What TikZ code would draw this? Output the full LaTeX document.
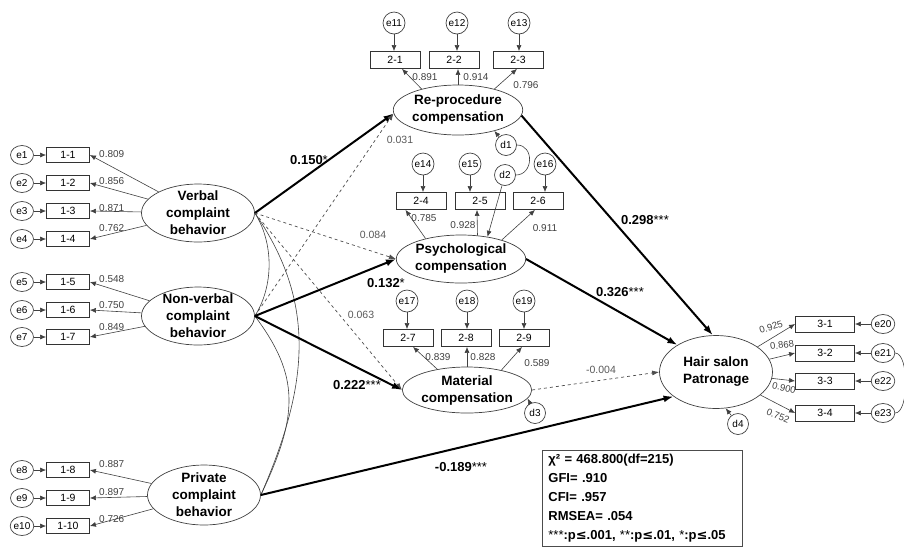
\documentclass[tikz,border=0pt]{standalone}
\usepackage{fontspec}
\setmainfont{Liberation Sans}
\newfontfamily\symfont{DejaVu Sans}
\usetikzlibrary{shapes.geometric,arrows.meta}
\newcommand{\lesym}{{\symfont\bfseries ≤}}
\begin{document}
\begin{tikzpicture}[x=1pt,y=-1pt,
    lat/.style={ellipse,draw=black!75,line width=.7pt,minimum width=113pt,minimum height=48pt,inner xsep=0pt,inner ysep=-6pt,align=center,font=\bfseries\fontsize{13.5}{17}\selectfont},
    ind/.style={draw=black!80,line width=.8pt,minimum width=50pt,minimum height=17pt,inner sep=0pt,font=\fontsize{10.5}{12}\selectfont},
    err/.style={circle,draw=black!75,line width=.7pt,minimum size=22pt,inner sep=0pt,font=\fontsize{10}{12}\selectfont},
    errw/.style={err,ellipse,minimum width=23pt,minimum height=19pt},
    ld/.style={font=\fontsize{10}{12}\selectfont,text=black!75,inner sep=1pt},
    ns/.style={font=\fontsize{10.5}{12}\selectfont,text=black!65,inner sep=1pt},
    coef/.style={font=\bfseries\fontsize{13}{14}\selectfont,inner sep=1pt},
    load/.style={-{Latex[length=6pt,width=5pt]},draw=black!75,line width=.6pt},
    strong/.style={-{Latex[length=10pt,width=7pt]},line width=2pt},
    weak/.style={-{Latex[length=7pt,width=5pt]},dashed,draw=black!70,line width=.7pt},
    cov/.style={draw=black!75,line width=.6pt}]
  \useasboundingbox (0,0) rectangle (904,550);

  \node[lat,minimum height=58pt] (vb) at (198,213) {Verbal\\complaint\\behavior};
  \node[lat,minimum height=58pt] (nv) at (198,316) {Non-verbal\\complaint\\behavior};
  \node[lat,minimum height=60pt] (pv) at (204,495) {Private\\complaint\\behavior};
  \node[lat,minimum height=50pt] (rp) at (458,110) {Re-procedure\\compensation};
  \node[lat] (pc) at (461,259) {Psychological\\compensation};
  \node[lat,minimum height=46pt] (mc) at (467,390) {Material\\compensation};
  \node[lat,minimum height=73pt] (hs) at (716,372) {Hair salon\\Patronage};

  \foreach \i/\y/\v/\ly/\f in {1/155/0.809/154/vb, 2/183/0.856/181/vb, 3/211/0.871/208/vb, 4/239/0.762/228/vb,
      5/282/0.548/279/nv, 6/310/0.750/305/nv, 7/337/0.849/327/nv,
      8/470/0.887/464/pv, 9/498/0.897/492/pv, 10/526/0.726/519/pv}{
    \node[ind,minimum width=43pt,minimum height=15pt] (b1\i) at (68,\y) {1-\i};
    \node[errw] (e\i) at (22,\y) {e\i};
    \draw[load] (e\i) -- (b1\i);
    \draw[load] (\f) -- (b1\i.east);
    \node[ld,anchor=west] (l1\i) at (98,\ly) {\v};
  }

  \foreach \b/\t/\x/\y/\n/\ex/\f/\a/\s/\v/\lx/\ly in {21/2-1/395/60/11/394/rp/150/7/0.891/425/77, 22/2-2/454/60/12/457/rp/90/4/0.914/476/77,
      23/2-3/518/60/13/519/rp/30/-1/0.796/526/85, 24/2-4/421/201/14/423/pc/150/-15.5/0.785/424/218,
      25/2-5/480/201/15/470/pc/55/-3/0.928/463/225, 26/2-6/538/201/16/545/pc/25/-3/0.911/545/228,
      27/2-7/408/338/17/407/mc/145/5/0.839/438/357, 28/2-8/466/338/18/467/mc/90/1/0.828/483/357,
      29/2-9/524/338/19/524/mc/30/-2/0.589/537/363}{
    \node[ind] (b\b) at (\x,\y) {\t};
    \node[err] (e\n) at (\ex,\y-37) {e\n};
    \draw[load] (e\n) -- (e\n |- b\b.north);
    \draw[load] (\f.\a) -- ([xshift=\s pt]b\b.south);
    \node[ld] (l\b) at (\lx,\ly) {\v};
  }

  \foreach \i/\y/\n/\v/\lx/\ly/\r in {1/324/20/0.925/771/327/18, 2/353/21/0.868/782/345/8, 3/381/22/0.900/784/388/-14, 4/413/23/0.752/778/416/-22}{
    \node[ind,minimum width=59pt,minimum height=16pt] (b3\i) at (825,\y) {3-\i};
    \node[errw] (e\n) at (883,\y) {e\n};
    \draw[load] (e\n) -- (b3\i);
    \draw[load] (hs) -- (b3\i.west);
    \node[ld,font=\fontsize{9.5}{11}\selectfont,rotate=\r] (l3\i) at (\lx,\ly) {\v};
  }
  \draw[cov] (e21.east) to[out=0,in=0,looseness=.6] (e23.east);

  \node[err,minimum size=21pt] (d1) at (506,145) {d1};
  \node[err,minimum size=21pt] (d2) at (505,175) {d2};
  \node[err,minimum size=21pt] (d3) at (535,413) {d3};
  \node[err,minimum size=21pt] (d4) at (738,424) {d4};
  \draw[load] (d1) -- (rp.-30);
  \draw[load] (d2) -- (pc.40);
  \draw[load] (d3) -- (mc.-8);
  \draw[load] (d4) -- (hs.-75);
  \draw[cov] (d1.east) to[out=0,in=0,looseness=1.5] (d2.east);

  \draw[cov] (vb.east) .. controls +(19,30) and +(19,-30) .. (nv.east);
  \draw[cov] (vb.east) .. controls +(62,90) and +(48,-110) .. (pv.east);
  \draw[cov] (nv.east) .. controls +(45,60) and +(38,-80) .. (pv.east);

  \draw[strong] (vb.east) -- (rp.183);
  \draw[weak] (nv.east) -- (rp.183);
  \draw[weak] (vb.east) -- (pc.west);
  \draw[strong] (nv.east) -- (pc.west);
  \draw[weak] (vb.east) -- (mc.west);
  \draw[strong] (nv.east) -- (mc.west);
  \draw[strong] (rp.-5) -- (hs.95);
  \draw[strong] (pc.east) -- (hs.145);
  \draw[weak] (mc.east) -- (hs.west);
  \draw[strong] (pv.east) -- (hs.210);

  \node[coef] (c1) at (309,160) {0.150{\mdseries*}};
  \node[ns] (c2) at (400,140) {0.031};
  \node[ns] (c3) at (373,235) {0.084};
  \node[coef] (c4) at (386,283) {0.132{\mdseries*}};
  \node[ns] (c5) at (361,315) {0.063};
  \node[coef] (c6) at (357,385) {0.222{\mdseries***}};
  \node[coef] (c7) at (645,220) {0.298{\mdseries***}};
  \node[coef] (c8) at (620,292) {0.326{\mdseries***}};
  \node[ns] (c9) at (601,370) {-0.004};
  \node[coef] (c10) at (461,467) {-0.189{\mdseries***}};

  \node[draw=black!70,line width=.8pt,anchor=north west,text width=188pt,align=left,inner xsep=6pt,inner ysep=4pt,
    font=\bfseries\fontsize{13}{19}\selectfont] (gof) at (542,450)
    {χ² = 468.800(df=215)\\GFI= .910\\CFI= .957\\RMSEA= .054\\{\mdseries***}:p\lesym.001, {\mdseries**}:p\lesym.01, {\mdseries*}:p\lesym.05};
\end{tikzpicture}
\end{document}
